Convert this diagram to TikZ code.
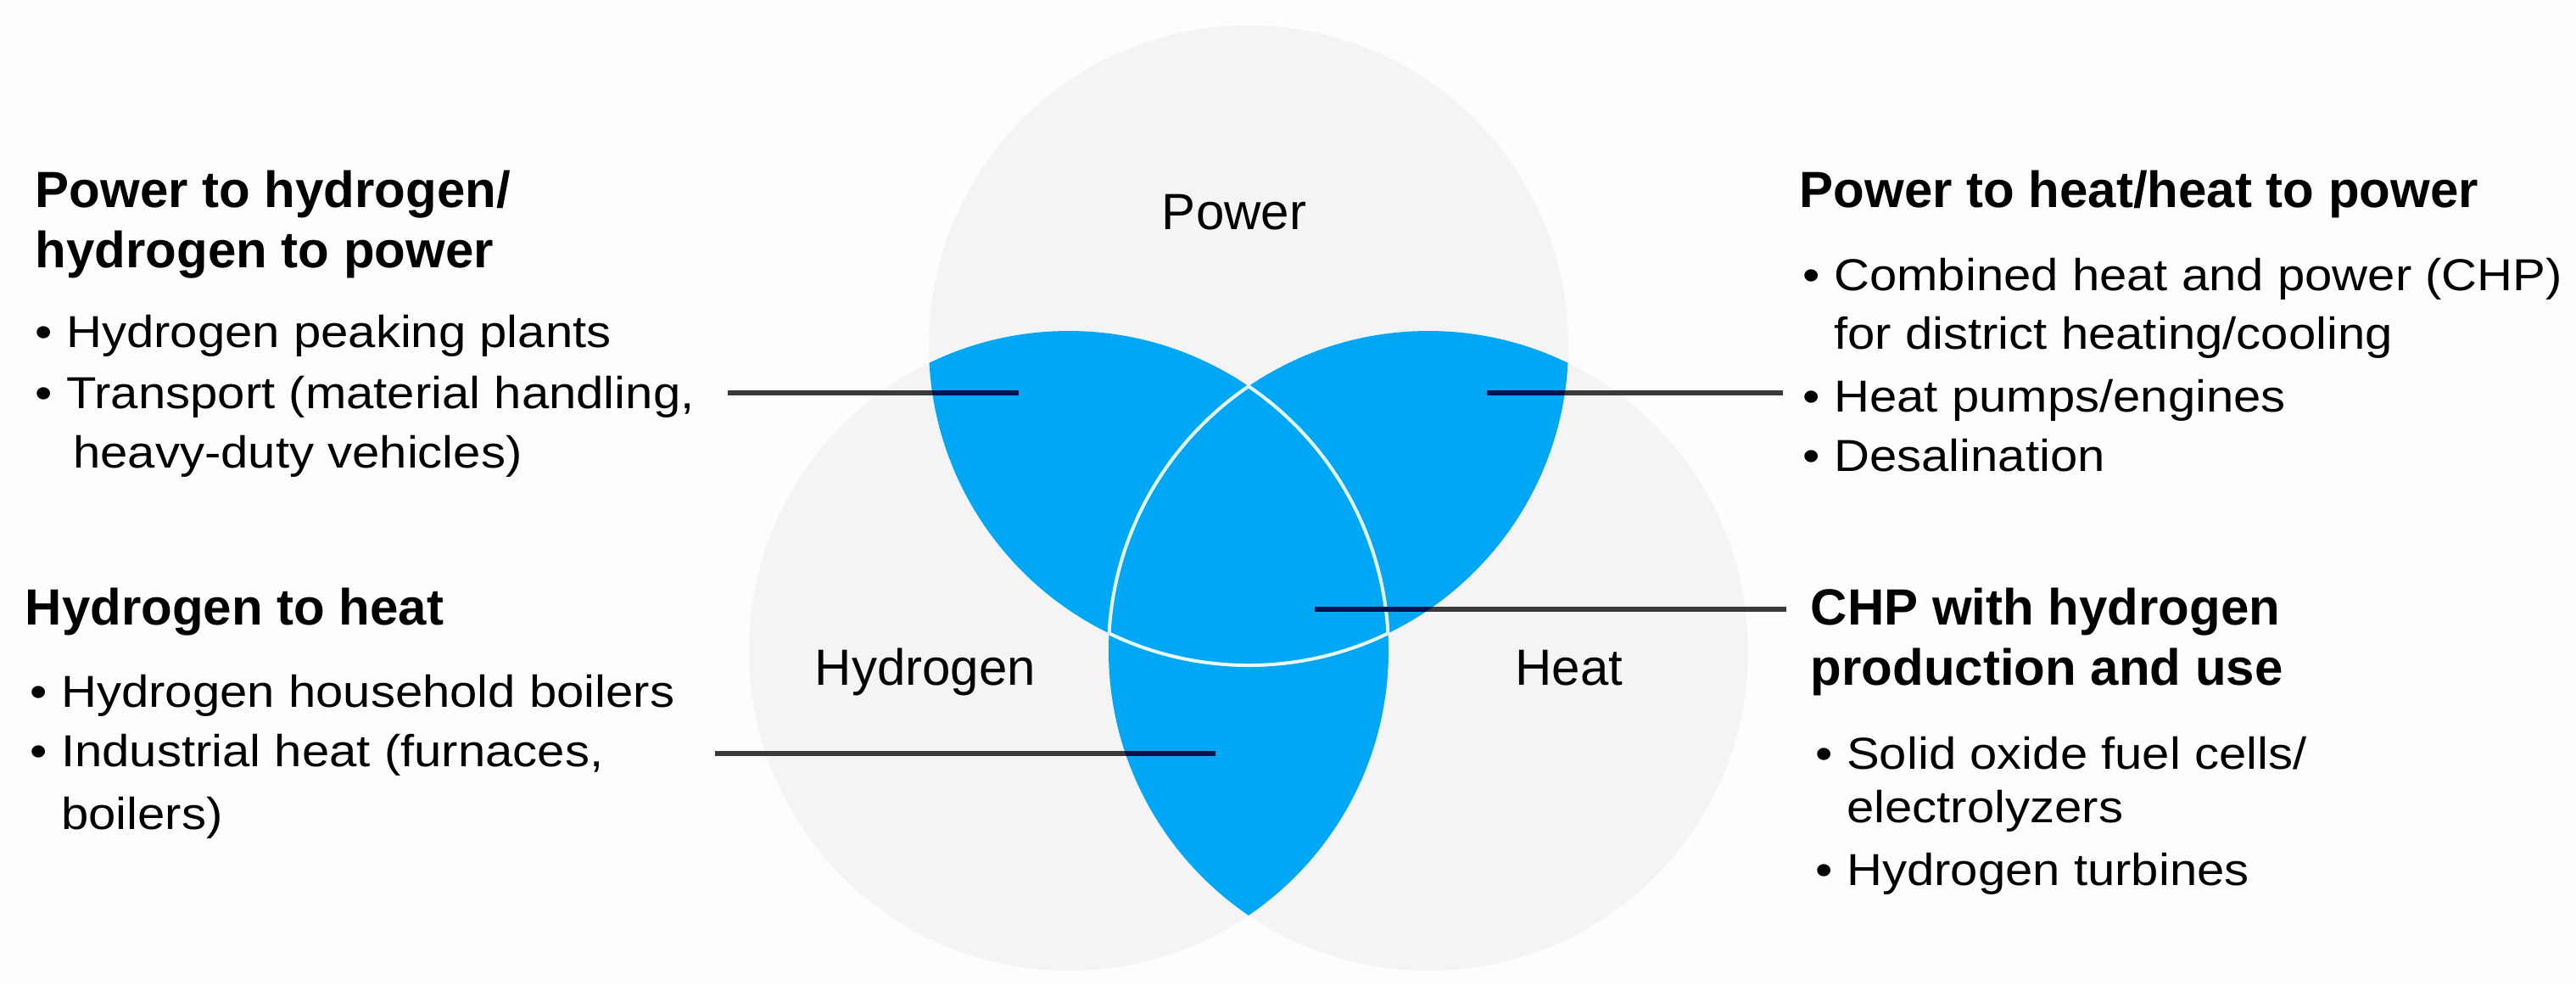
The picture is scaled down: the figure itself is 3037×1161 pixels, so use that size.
\documentclass[tikz,border=0pt]{standalone}
\usepackage{fontspec}
\setmainfont{Liberation Sans}
\newfontfamily\bodyfont[FakeStretch=1.1]{Liberation Sans}
\definecolor{bg}{HTML}{FDFDFD}
\definecolor{circ}{HTML}{F4F4F4}
\definecolor{vblue}{RGB}{0,167,245}
\definecolor{navy}{HTML}{00124F}
\definecolor{leadc}{HTML}{3A3A3A}
\definecolor{seam}{HTML}{E6FAFF}
\begin{document}
\begin{tikzpicture}[x=0.25pt,y=-0.25pt,
  head/.style={anchor=base west,inner sep=0,font=\fontsize{15}{18}\selectfont\bfseries},
  item/.style={anchor=base west,inner sep=0,font=\bodyfont\fontsize{13.2}{16}\selectfont},
  clabel/.style={anchor=base,inner sep=0,font=\fontsize{15}{18}\selectfont},
  leader/.style={line width=1.5pt,draw=leadc},
  leaderin/.style={line width=1.5pt,draw=navy},
  seamline/.style={draw=seam,line width=1pt}]
\def\PowerC{(1472,407) circle [radius=377]}
\def\HydC{(1260,767) circle [radius=377]}
\def\HeatC{(1684,767) circle [radius=377]}
\useasboundingbox (0,0) rectangle (3037,1161);
\fill[bg] (0,0) rectangle (3037,1161);
% grey circles
\fill[circ] \PowerC;
\fill[circ] \HydC;
\fill[circ] \HeatC;
% blue overlaps
\begin{scope}
  \clip \PowerC;
  \fill[vblue] \HydC;
  \fill[vblue] \HeatC;
\end{scope}
\begin{scope}
  \clip \HydC;
  \fill[vblue] \HeatC;
\end{scope}
% white seams of the central region
\begin{scope}
  \clip \PowerC; \clip \HydC;
  \draw[seamline] \HeatC;
\end{scope}
\begin{scope}
  \clip \PowerC; \clip \HeatC;
  \draw[seamline] \HydC;
\end{scope}
\begin{scope}
  \clip \HydC; \clip \HeatC;
  \draw[seamline] \PowerC;
\end{scope}
% circle labels
\node[clabel] (lpower) at (1455,270) {Power};
\node[clabel] (lhyd) at (1091,807) {Hydrogen};
\node[clabel] (lheat) at (1850,807) {Heat};
% left top block
\node[head] (h1a) at (41,244) {Power to hydrogen/};
\node[head] (h1b) at (41,315) {hydrogen to power};
\node[item] (i1a) at (41,409) {• Hydrogen peaking plants};
\node[item] (i1b) at (41,481) {• Transport (material handling,};
\node[item] (i1c) at (41,551) {\phantom{• }\kern2pt heavy-duty vehicles)};
% left bottom block
\node[head] (h3) at (29,736) {Hydrogen to heat};
\node[item] (i3a) at (35,833) {• Hydrogen household boilers};
\node[item] (i3b) at (35,903) {• Industrial heat (furnaces,};
\node[item] (i3c) at (35,977) {\phantom{• }boilers)};
% right top block
\node[head] (h2) at (2121,244) {Power to heat/heat to power};
\node[item] (i2a) at (2125,342) {• Combined heat and power (CHP)};
\node[item] (i2b) at (2125,411) {\phantom{• }for district heating/cooling};
\node[item] (i2c) at (2125,485) {• Heat pumps/engines};
\node[item] (i2d) at (2125,555) {• Desalination};
% right bottom block
\node[head] (h4a) at (2134,736) {CHP with hydrogen};
\node[head] (h4b) at (2134,807) {production and use};
\node[item] (i4a) at (2140,906) {• Solid oxide fuel cells/};
\node[item] (i4b) at (2140,969) {\phantom{• }electrolyzers};
\node[item] (i4c) at (2140,1043) {• Hydrogen turbines};
% connectors
\coordinate (a1) at (858,463);  \coordinate (b1) at (1201,463);
\coordinate (a2) at (2102,463); \coordinate (b2) at (1753,463);
\coordinate (a3) at (2106,718); \coordinate (b3) at (1550,718);
\coordinate (a4) at (843,888);  \coordinate (b4) at (1433,888);
\draw[leader] (a1) -- (b1);
\draw[leader] (a2) -- (b2);
\draw[leader] (a3) -- (b3);
\draw[leader] (a4) -- (b4);
\begin{scope}
  \clip \PowerC; \clip \HydC;
  \draw[leaderin] (a1) -- (b1);
\end{scope}
\begin{scope}
  \clip \PowerC; \clip \HeatC;
  \draw[leaderin] (a2) -- (b2);
  \draw[leaderin] (a3) -- (b3);
\end{scope}
\begin{scope}
  \clip \HydC; \clip \HeatC;
  \draw[leaderin] (a4) -- (b4);
\end{scope}
\end{tikzpicture}
\end{document}
